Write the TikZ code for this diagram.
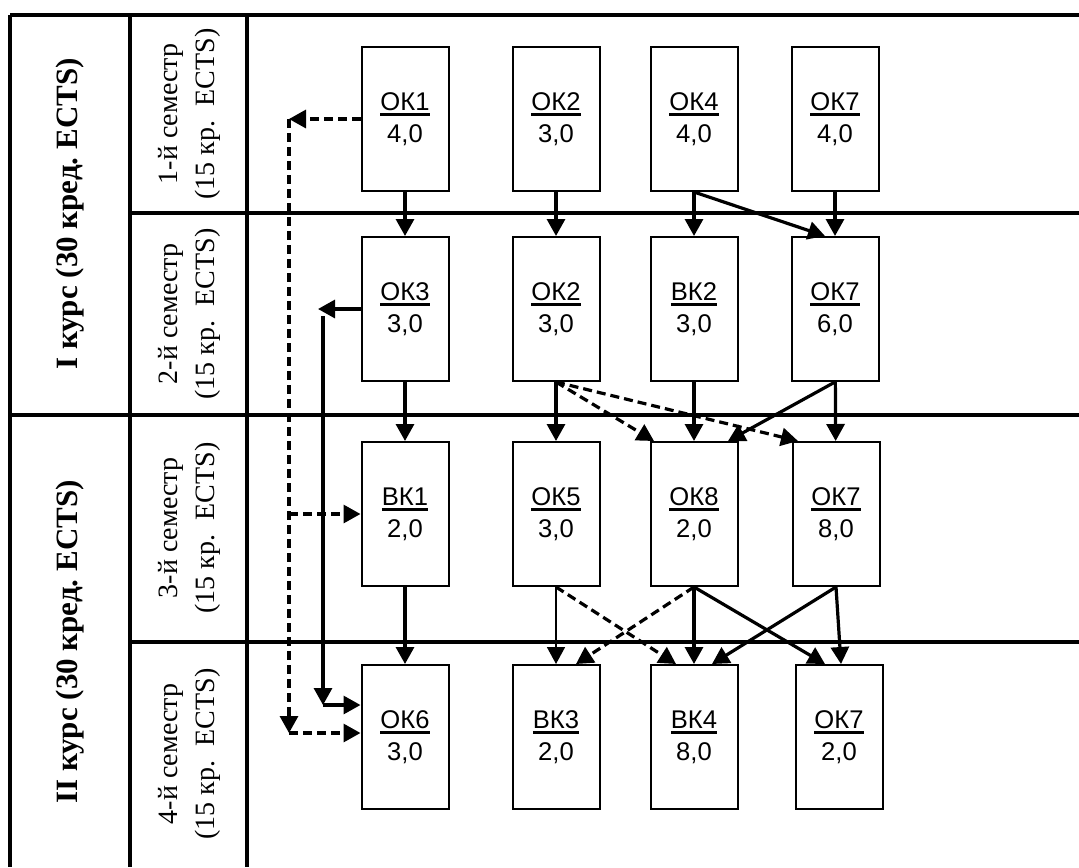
\documentclass[tikz,border=0pt]{standalone}
\usepackage{fontspec}
\setmainfont{Liberation Serif}
\newfontfamily\arialfont{Liberation Sans}
\usetikzlibrary{arrows.meta}

\newcommand{\ulname}[1]{\leavevmode\vtop{\hbox{#1}\kern1.2pt\hrule height 1.6pt}}

\tikzset{
  kbox/.style={draw, line width=1pt, minimum width=43.5pt, minimum height=72pt, inner sep=0pt, align=center, font=\arialfont\fontsize{12.8}{16}\selectfont},
  frame/.style={line width=2pt},
  arr/.style={line width=1.6pt, -{Triangle[length=8.5pt,width=9pt]}},
  darr/.style={arr, dash pattern=on 4.5pt off 2.5pt},
  thinarr/.style={arr, line width=0.8pt},
  kurs/.style={rotate=90, font=\bfseries\fontsize{15.5}{18}\selectfont},
  sem/.style={rotate=90, align=center, font=\fontsize{14}{18.5}\selectfont}
}

\begin{document}
\begin{tikzpicture}[x=0.5pt,y=0.5pt,yscale=-1]
\useasboundingbox (0,0) rectangle (1079,867);

%Table lines
\draw[frame] (10,15) -- (1079,15);
\draw[frame] (10,15) -- (10,867);
\draw[frame] (130,15) -- (130,867);
\draw[frame] (247,15) -- (247,867);
\draw[frame] (130,213) -- (1079,213);
\draw[frame] (10,415) -- (1079,415);
\draw[frame] (130,642) -- (1079,642);

% Text Node
\node[kurs] (kurs1) at (70,214) {I курс (30 кред.\ ECTS)};
\node[kurs] (kurs2) at (70,642) {II курс (30 кред.\ ECTS)};
% Text Node
\node[sem] (sem1) at (189,114) {1-й семестр\\(15 кр.\ \ ECTS)};
\node[sem] (sem2) at (189,314) {2-й семестр\\(15 кр.\ \ ECTS)};
\node[sem] (sem3) at (189,528) {3-й семестр\\(15 кр.\ \ ECTS)};
\node[sem] (sem4) at (189,754) {4-й семестр\\(15 кр.\ \ ECTS)};

%Boxes, 1st semester
\node[kbox] (ok1) at (405,119) {\ulname{ОК1}\\4,0};
\node[kbox] (ok2a) at (556,119) {\ulname{ОК2}\\3,0};
\node[kbox] (ok4) at (694,119) {\ulname{ОК4}\\4,0};
\node[kbox] (ok7a) at (835,119) {\ulname{ОК7}\\4,0};
%Boxes, 2nd semester
\node[kbox] (ok3) at (405,309) {\ulname{ОК3}\\3,0};
\node[kbox] (ok2b) at (556,309) {\ulname{ОК2}\\3,0};
\node[kbox] (bk2) at (694,309) {\ulname{ВК2}\\3,0};
\node[kbox] (ok7b) at (835,309) {\ulname{ОК7}\\6,0};
%Boxes, 3rd semester
\node[kbox] (bk1) at (405,514) {\ulname{ВК1}\\2,0};
\node[kbox] (ok5) at (556,514) {\ulname{ОК5}\\3,0};
\node[kbox] (ok8) at (694,514) {\ulname{ОК8}\\2,0};
\node[kbox] (ok7c) at (836,514) {\ulname{ОК7}\\8,0};
%Boxes, 4th semester
\node[kbox] (ok6) at (405,737) {\ulname{ОК6}\\3,0};
\node[kbox] (bk3) at (556,737) {\ulname{ВК3}\\2,0};
\node[kbox] (bk4) at (694,737) {\ulname{ВК4}\\8,0};
\node[kbox] (ok7d) at (839,737) {\ulname{ОК7}\\2,0};

%Free ends of the side lines
\coordinate (dl) at (289,0);
\coordinate (s1) at (323,316);
\coordinate (s2) at (323,705);

%Arrows 1 -> 2
\draw[arr] (ok1) -- (ok3);
\draw[arr] (ok2a) -- (ok2b);
\draw[arr] (ok4) -- (bk2);
\draw[arr] (ok7a) -- (ok7b);
\draw[arr] (ok4.south) -- ([xshift=-5pt]ok7b.north);
%Arrows 2 -> 3
\draw[arr] (ok3) -- (bk1);
\draw[arr] (ok2b) -- (ok5);
\draw[arr] (bk2) -- (ok8);
\draw[arr] (ok7b) -- (ok7c);
\draw[arr] (ok7b.south) -- ([xshift=17pt]ok8.north);
\draw[darr] (ok2b.south) -- ([xshift=-20pt]ok8.north);
\draw[darr] (ok2b.south) -- ([xshift=-19pt]ok7c.north);
%Arrows 3 -> 4
\draw[arr] (bk1) -- (ok6);
\draw[thinarr] (ok5) -- (bk3);
\draw[darr] (ok5.south) -- ([xshift=-9pt]bk4.north);
\draw[darr] (ok8.south) -- ([xshift=10pt]bk3.north);
\draw[arr] (ok8) -- (bk4);
\draw[arr] (ok8.south) -- ([xshift=-7pt]ok7d.north);
\draw[arr] (ok7c.south) -- ([xshift=9pt]bk4.north);
\draw[arr] (ok7c.south) -- ([xshift=1pt]ok7d.north);

%Side lines
\draw[darr] (ok1.west) -- (ok1.west -| dl);
\draw[darr] (ok1.west -| dl) -- ([yshift=-2pt]ok6.west -| dl);
\draw[darr] (bk1.west -| dl) -- (bk1.west);
\draw[darr] ([yshift=-2pt]ok6.west -| dl) -- ([yshift=-2pt]ok6.west);
\draw[arr] (ok3.west) -- ([xshift=-2.5pt]ok3.west -| s1);
\draw[arr] (s1) -- (s2);
\draw[arr] (s2) -- (s2 -| ok6.west);

\end{tikzpicture}
\end{document}
